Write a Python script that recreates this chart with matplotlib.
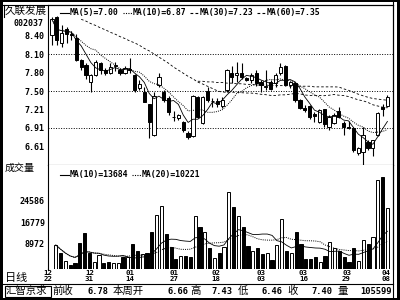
import numpy as np
import pandas as pd
import matplotlib
matplotlib.use('Agg')
import matplotlib.pyplot as plt
from matplotlib.lines import Line2D
from matplotlib.patches import Rectangle

# ---------------- data ----------------
opens  = [8.41, 8.69, 8.27, 8.50, 8.42, 8.36, 8.00, 7.92, 7.65, 7.76,
          7.95, 7.84, 7.79, 7.90, 7.85, 7.80, 7.86, 7.76, 7.55, 7.49,
          7.29, 6.79, 7.60, 7.49, 7.39, 7.09, 7.07, 7.00, 6.83, 6.78,
          7.40, 6.99, 7.50, 7.34, 7.34, 7.26, 7.52, 7.79, 7.76, 7.79,
          7.71, 7.68, 7.79, 7.65, 7.57, 7.65, 7.63, 7.79, 7.91, 7.60,
          7.63, 7.36, 7.23, 7.26, 7.14, 7.00, 7.21, 6.93, 6.99, 7.18,
          6.99, 6.93, 6.91, 6.50, 6.52, 6.68, 6.58, 6.80, 7.25, 7.26]
highs  = [8.69, 8.72, 8.57, 8.53, 8.47, 8.42, 8.02, 7.95, 7.78, 8.00,
          7.97, 7.87, 7.95, 7.97, 7.87, 7.90, 8.03, 7.78, 7.68, 7.57,
          7.30, 7.49, 7.79, 7.52, 7.42, 7.18, 7.13, 7.02, 6.86, 7.44,
          7.42, 7.42, 7.57, 7.39, 7.39, 7.41, 7.86, 7.90, 7.97, 7.95,
          7.73, 7.79, 7.84, 7.68, 7.84, 7.68, 7.79, 7.95, 7.92, 7.66,
          7.65, 7.37, 7.27, 7.28, 7.17, 7.21, 7.22, 7.12, 7.15, 7.24,
          7.02, 7.02, 6.92, 6.60, 6.93, 6.71, 6.72, 7.17, 7.30, 7.44]
lows   = [8.25, 8.25, 8.22, 8.28, 8.33, 7.98, 7.85, 7.70, 7.49, 7.74,
          7.78, 7.76, 7.77, 7.83, 7.76, 7.78, 7.79, 7.49, 7.52, 7.33,
          6.74, 6.77, 7.57, 7.33, 7.12, 7.02, 7.04, 6.85, 6.73, 6.76,
          7.06, 6.97, 7.33, 7.24, 7.25, 7.23, 7.49, 7.63, 7.65, 7.70,
          7.66, 7.63, 7.58, 7.49, 7.52, 7.52, 7.57, 7.76, 7.58, 7.55,
          7.33, 7.21, 7.17, 7.05, 7.00, 6.99, 6.93, 6.88, 6.97, 7.06,
          6.79, 6.89, 6.52, 6.47, 6.30, 6.55, 6.46, 6.77, 7.10, 7.24]
closes = [8.66, 8.33, 8.44, 8.43, 8.40, 8.00, 7.89, 7.76, 7.76, 7.97,
          7.84, 7.79, 7.89, 7.92, 7.79, 7.88, 7.85, 7.52, 7.62, 7.33,
          7.00, 7.42, 7.73, 7.36, 7.16, 7.08, 7.11, 6.87, 6.76, 7.42,
          7.08, 7.40, 7.36, 7.35, 7.29, 7.36, 7.84, 7.73, 7.80, 7.73,
          7.68, 7.76, 7.63, 7.60, 7.59, 7.54, 7.76, 7.89, 7.60, 7.65,
          7.36, 7.23, 7.20, 7.08, 7.10, 7.20, 6.97, 7.08, 7.12, 7.08,
          6.92, 6.91, 6.55, 6.58, 6.80, 6.58, 6.71, 7.15, 7.22, 7.40]
volumes = [8600, 5600, 3000, 1500, 2000, 9400, 13000, 5600, 2600, 5000,
           2000, 2400, 2000, 2000, 4400, 4200, 9000, 6600, 5400, 5900,
           13400, 19400, 22400, 12500, 8000, 3500, 4700, 4700, 4200, 18800,
           15200, 13400, 7400, 3800, 5900, 8000, 27400, 22100, 18800, 15200,
           8300, 6600, 7400, 5400, 5900, 3200, 8600, 17800, 6600, 5600,
           13200, 9000, 3500, 3500, 4200, 2600, 4700, 9500, 7500, 6600,
           4400, 2600, 7500, 3000, 10500, 9000, 11400, 31700, 33100, 22000]
nan = np.nan
ma30_read = [nan, nan, nan, nan, nan, nan, 8.66, 8.63, 8.59, 8.56,
             8.52, 8.49, 8.45, 8.42, 8.38, 8.35, 8.31, 8.28, 8.24, 8.19,
             8.15, 8.10, 8.05, 8.00, 7.95, 7.89, 7.84, 7.79, 7.74]
ma60_read = [nan] * 30 + [7.66, 7.66, 7.65, 7.65, 7.64, 7.64, 7.63, 7.63, 7.62, 7.62,
                          7.61, 7.61, 7.60, 7.60, 7.60, 7.59, 7.59, 7.59, 7.59, 7.58,
                          7.58, 7.58, 7.58, 7.58, 7.57, 7.57, 7.57, 7.57, 7.57]

price_ticks = [8.40, 8.10, 7.80, 7.50, 7.21, 6.91, 6.61]
grid_levels = [8.10, 7.50, 6.91]
vol_ticks = [24586, 16779, 8972]
date_labels = ['12\n22', '12\n31', '01\n14', '01\n27', '02\n18', '03\n03', '03\n16', '03\n29', '04\n08']
date_pos = [-1.6, 7.0, 15.5, 24.6, 33.3, 42.6, 51.5, 60.5, 68.7]

stock_name = '久联发展'
stock_code = '002037'
price_legend = [('MA(5)=7.00', '-'), ('MA(10)=6.87', ':'), ('MA(30)=7.23', '--'), ('MA(60)=7.35', '--')]
vol_legend = [('MA(10)=13684', '-'), ('MA(20)=10221', ':')]
info_items = [('前收', 'cjk', 52), ('6.78', 'num', 108), ('本周开', 'cjk', 113), ('6.66', 'num', 188),
              ('高', 'cjk', 190), ('7.43', 'num', 232), ('低', 'cjk', 238), ('6.46', 'num', 282),
              ('收', 'cjk', 287), ('7.40', 'num', 332), ('量', 'cjk', 337), ('105599', 'num', 392)]

# ---------------- derived ----------------
o = np.array(opens); h = np.array(highs); l = np.array(lows); c = np.array(closes)
v = np.array(volumes)
n = len(c)
x = np.arange(n)
cs = pd.Series(c)
ma5 = cs.rolling(5, min_periods=1).mean()
ma10 = cs.rolling(10, min_periods=1).mean()
ma30 = cs.rolling(30).mean().values
ma30[:len(ma30_read)] = ma30_read
ma60 = cs.rolling(60).mean().values
ma60[:len(ma60_read)] = ma60_read
vs = pd.Series(v)
vma10 = vs.rolling(10, min_periods=1).mean()
vma20 = vs.rolling(20, min_periods=1).mean()

# ---------------- figure ----------------
W, H = 400, 300
fig = plt.figure(figsize=(4, 3), dpi=100)
fig.patch.set_facecolor('white')

def fx(px): return px / W
def fy(py): return 1 - py / H

MONO = 'DejaVu Sans Mono'
CJK = ['Noto Sans CJK SC', 'DejaVu Sans']
K = 'black'

ax1 = fig.add_axes([fx(48), fy(164.5), (393 - 48) / W, (164.5 - 4.5) / H])
ax2 = fig.add_axes([fx(48), fy(269), (393 - 48) / W, (269 - 164.5) / H])

px_per_unit = 62.0
ax1.set_ylim(8.10 - (164.5 - 54) / px_per_unit, 8.10 + (54 - 4.5) / px_per_unit)
xl = (-0.82, 70.15)
ax1.set_xlim(*xl)
ax2.set_xlim(*xl)
ax2.set_ylim(0, 37400)

up = c >= o
bw = 0.66
# candles
ax1.vlines(x, l, h, color=K, lw=0.8, zorder=2)
body_b = np.minimum(o, c)
body_h = np.maximum(np.abs(c - o), 0.008)
ax1.bar(x, body_h, bottom=body_b, width=bw, color=np.where(up, 'white', K),
        edgecolor=K, linewidth=0.7, zorder=3)
for gl in grid_levels:
    ax1.axhline(gl, color=K, lw=0.7, ls=(0, (1, 1.6)), zorder=1)
ax1.plot(x, ma5, color=K, lw=0.6, zorder=4)
ax1.plot(x, ma10, color=K, lw=0.7, ls=(0, (1, 1.2)), zorder=4)
ax1.plot(x, ma30, color=K, lw=0.6, ls=(0, (3, 2.5)), zorder=4)
ax1.plot(x, ma60, color=K, lw=0.6, ls=(0, (3, 2.5)), zorder=4)

# volume
ax2.bar(x, v, width=bw, color=np.where(up, 'white', K), edgecolor=K, linewidth=0.7, zorder=3)
ax2.plot(x, vma10, color=K, lw=0.6, zorder=4)
ax2.plot(x, vma20, color=K, lw=0.7, ls=(0, (1, 1.2)), zorder=4)

for ax in (ax1, ax2):
    for s in ax.spines.values():
        s.set_color(K); s.set_linewidth(0.8)
    ax.set_facecolor('white')
ax2.spines['top'].set_visible(False)
ax2.spines['bottom'].set_visible(False)

ax1.set_xticks([])
ax1.set_yticks(price_ticks)
ax1.set_yticklabels(['%.2f' % t for t in price_ticks], family=MONO, weight='bold', fontsize=6)
ax1.tick_params(axis='y', length=0, pad=2.2)
ax2.set_yticks(vol_ticks)
ax2.set_yticklabels([str(t) for t in vol_ticks], family=MONO, weight='bold', fontsize=6)
ax2.tick_params(axis='y', length=0, pad=2.2)
ax2.set_xticks(date_pos)
ax2.set_xticklabels(date_labels, family=MONO, weight='bold', fontsize=5.3, linespacing=1.0)
ax2.tick_params(axis='x', length=0, pad=1)

# legends
def legend_row(items, x0, yc, gaps):
    xx = x0
    for (txt, ls), gap in zip(items, gaps):
        style = {'-': '-', ':': (0, (1, 1.2)), '--': (0, (2.5, 2))}[ls]
        fig.add_artist(Line2D([fx(xx), fx(xx + 9)], [fy(yc), fy(yc)], color=K, lw=0.8, ls=style))
        fig.text(fx(xx + 10), fy(yc), txt, family=MONO, weight='bold', fontsize=5.9, va='center', ha='left')
        xx += gap

legend_row(price_legend, 60, 13, [63, 67, 67, 67])
legend_row(vol_legend, 60, 174.5, [72, 72])

# left labels
fig.text(fx(5), fy(11), stock_name, family=CJK, fontsize=7.6, va='center', ha='left')
fig.text(fx(43), fy(23.5), stock_code, family=MONO, weight='bold', fontsize=6, va='center', ha='right')
fig.text(fx(5), fy(168), '成交量', family=CJK, fontsize=7.2, va='center', ha='left')
fig.text(fx(5), fy(277.5), '日线', family=CJK, fontsize=8, va='center', ha='left')

# info bar
fig.text(fx(6), fy(291), '汇智京求', family=CJK, fontsize=7.5, va='center', ha='left')
for txt, kind, xp in info_items:
    if kind == 'cjk':
        fig.text(fx(xp), fy(291), txt, family=CJK, fontsize=7.5, va='center', ha='left')
    else:
        fig.text(fx(xp), fy(291), txt, family=MONO, weight='bold', fontsize=6.3, va='center', ha='right')

# frame lines
def hline(y, x0, x1, lw=0.8):
    fig.add_artist(Line2D([fx(x0), fx(x1)], [fy(y), fy(y)], color=K, lw=lw))
def vline(xp, y0, y1, lw=0.8):
    fig.add_artist(Line2D([fx(xp), fx(xp)], [fy(y0), fy(y1)], color=K, lw=lw))

hline(4.5, 3, 393)
hline(284, 2, 393)
vline(393, 2, 298)
vline(48, 269, 270)
vline(3.5, 4.5, 17)
fig.add_artist(Rectangle((fx(4.5), fy(297)), (50.5 - 4.5) / W, (297 - 285.5) / H, transform=fig.transFigure,
                         fill=False, ec=K, lw=0.8))
# outer border
for (x0, y0, w, hh) in [(0, 0, 2.5, 300), (0, 0, 400, 2), (396.5, 0, 3.5, 300), (0, 297.5, 400, 2.5)]:
    fig.add_artist(Rectangle((fx(x0), fy(y0 + hh)), w / W, hh / H, transform=fig.transFigure,
                             fc=K, ec='none'))

fig.savefig('out.png', dpi=100, facecolor='white')
